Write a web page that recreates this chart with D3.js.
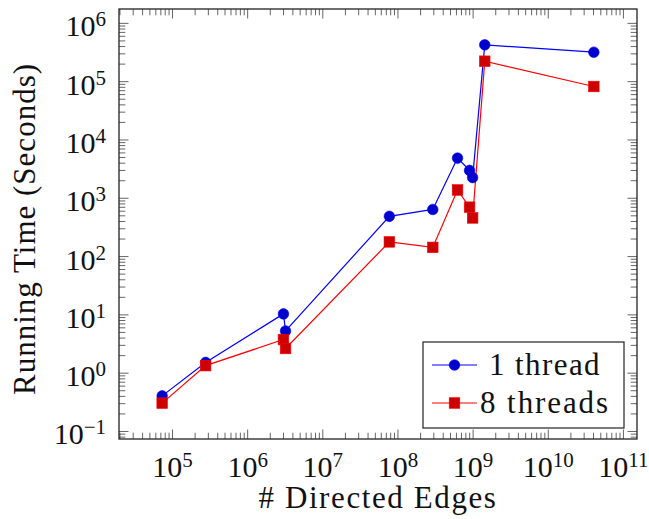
<!DOCTYPE html>
<html>
<head>
<meta charset="utf-8">
<script src="https://cdn.jsdelivr.net/npm/d3@7"></script>
<style>
  body { margin: 0; background: #fff; }
  svg, svg text { font-family: "Liberation Serif", "DejaVu Serif", serif; }
</style>
</head>
<body>
<svg id="chart" width="649" height="519"></svg>
<script>
// data
const edges = [7.4e4, 2.8e5, 3.04e6, 3.24e6, 7.8e7, 2.95e8, 6.3e8, 9.1e8, 1.0e9, 1.45e9, 4.1e10];
const oneThread = [0.40, 1.5, 10.2, 5.2, 480, 631, 4790, 2950, 2220, 4.2e5, 3.14e5];
const eightThreads = [0.30, 1.32, 3.7, 2.6, 175, 141, 1360, 690, 451, 2.2e5, 8.1e4];
const seriesNames = ["1 thread", "8 threads"];
const xTickPowers = [5, 6, 7, 8, 9, 10, 11];
const yTickPowers = [-1, 0, 1, 2, 3, 4, 5, 6];

const width = 649, height = 519;
const margin = { top: 9, right: 12, bottom: 80, left: 119 };
const majorLen = 9.5, minorLen = 6.3;
const serif = "Liberation Serif, DejaVu Serif, serif";

const svg = d3.select("#chart");

// pgfplots style: widen the log range by 10% on each side
function enlarge(ext) {
  const a = Math.log10(ext[0]), b = Math.log10(ext[1]), d = (b - a) * 0.1;
  return [Math.pow(10, a - d), Math.pow(10, b + d)];
}

const x = d3.scaleLog()
  .domain(enlarge(d3.extent(edges)))
  .range([margin.left, width - margin.right]);

const y = d3.scaleLog()
  .domain(enlarge(d3.extent(oneThread.concat(eightThreads))))
  .range([height - margin.bottom, margin.top]);

// minor ticks at 2..9 times each power of ten that fall inside the domain
function minorTicks(scale) {
  const [lo, hi] = scale.domain();
  const out = [];
  for (let p = Math.floor(Math.log10(lo)); p <= Math.ceil(Math.log10(hi)); p++) {
    for (let k = 2; k <= 9; k++) {
      const v = k * Math.pow(10, p);
      if (v > lo && v < hi) out.push(v);
    }
  }
  return out;
}

const xMajor = xTickPowers.map(p => Math.pow(10, p));
const yMajor = yTickPowers.map(p => Math.pow(10, p));

const bottom = height - margin.bottom, right = width - margin.right;

function styleTicks(g) {
  g.attr("font-family", serif).attr("font-size", 30);
  g.select(".domain").remove();
  g.selectAll(".tick line").attr("stroke", "#555").attr("stroke-width", 0.9);
}

// minor ticks on all four sides, pointing inward
svg.append("g").attr("transform", `translate(0,${bottom})`)
  .call(d3.axisBottom(x).tickValues(minorTicks(x)).tickSize(-minorLen).tickFormat(""))
  .call(styleTicks);
svg.append("g").attr("transform", `translate(0,${margin.top})`)
  .call(d3.axisTop(x).tickValues(minorTicks(x)).tickSize(-minorLen).tickFormat(""))
  .call(styleTicks);
svg.append("g").attr("transform", `translate(${margin.left},0)`)
  .call(d3.axisLeft(y).tickValues(minorTicks(y)).tickSize(-minorLen).tickFormat(""))
  .call(styleTicks);
svg.append("g").attr("transform", `translate(${right},0)`)
  .call(d3.axisRight(y).tickValues(minorTicks(y)).tickSize(-minorLen).tickFormat(""))
  .call(styleTicks);

// major ticks
svg.append("g").attr("transform", `translate(0,${margin.top})`)
  .call(d3.axisTop(x).tickValues(xMajor).tickSize(-majorLen).tickFormat(""))
  .call(styleTicks);
svg.append("g").attr("transform", `translate(${right},0)`)
  .call(d3.axisRight(y).tickValues(yMajor).tickSize(-majorLen).tickFormat(""))
  .call(styleTicks);

// power of ten labels: "10" with a raised exponent
function powerLabel(text, d) {
  const p = Math.round(Math.log10(d));
  text.text("10");
  text.append("tspan")
    .attr("font-size", 21)
    .attr("dy", -10)
    .text(p < 0 ? "\u2212" + (-p) : p);
}

svg.append("g").attr("class", "x-axis").attr("transform", `translate(0,${bottom})`)
  .call(d3.axisBottom(x).tickValues(xMajor).tickSize(-majorLen).tickFormat(""))
  .call(styleTicks)
  .call(g => g.selectAll(".tick text")
    .attr("y", 38).attr("dy", 0)
    .attr("font-family", serif).attr("font-size", 30).attr("fill", "#111")
    .each(function (d) { powerLabel(d3.select(this), d); }));

svg.append("g").attr("class", "y-axis").attr("transform", `translate(${margin.left},0)`)
  .call(d3.axisLeft(y).tickValues(yMajor).tickSize(-majorLen).tickFormat(""))
  .call(styleTicks)
  .call(g => g.selectAll(".tick text")
    .attr("x", -13).attr("dy", 13)
    .attr("font-family", serif).attr("font-size", 30).attr("fill", "#111")
    .each(function (d) { powerLabel(d3.select(this), d); }));

// frame
svg.append("rect")
  .attr("x", margin.left).attr("y", margin.top)
  .attr("width", right - margin.left).attr("height", bottom - margin.top)
  .attr("fill", "none").attr("stroke", "#222").attr("stroke-width", 1.3);

// series
const series = [
  { name: seriesNames[0], values: oneThread, line: "#0000ff", fill: "#0000cc", mark: "circle" },
  { name: seriesNames[1], values: eightThreads, line: "#ff0000", fill: "#cc0000", mark: "square" }
];

const line = d3.line()
  .x(d => x(d[0]))
  .y(d => y(d[1]));

const markR = 5.3;

function drawMark(g, s) {
  if (s.mark === "circle") {
    g.append("circle").attr("r", markR)
      .attr("fill", s.fill).attr("stroke", s.line).attr("stroke-width", 0.6);
  } else {
    g.append("rect").attr("x", -markR).attr("y", -markR)
      .attr("width", 2 * markR).attr("height", 2 * markR)
      .attr("fill", s.fill).attr("stroke", s.line).attr("stroke-width", 0.6);
  }
}

series.slice().reverse().forEach(s => {
  const pts = edges.map((e, i) => [e, s.values[i]]);
  svg.append("path")
    .datum(pts)
    .attr("d", line)
    .attr("fill", "none")
    .attr("stroke", s.line)
    .attr("stroke-width", 1.2);
});

series.forEach(s => {
  const pts = edges.map((e, i) => [e, s.values[i]]);
  svg.append("g").selectAll("g")
    .data(pts)
    .enter()
    .append("g")
    .attr("transform", d => `translate(${x(d[0])},${y(d[1])})`)
    .each(function () { drawMark(d3.select(this), s); });
});

// axis titles
svg.append("text")
  .attr("x", (margin.left + right) / 2).attr("y", 508)
  .attr("text-anchor", "middle").attr("font-size", 31).attr("letter-spacing", 1.6)
  .attr("fill", "#111")
  .text("# Directed Edges");

svg.append("text")
  .attr("transform", `translate(35,${(margin.top + bottom) / 2 + 5}) rotate(-90)`)
  .attr("text-anchor", "middle").attr("font-size", 31).attr("letter-spacing", 1)
  .attr("fill", "#111")
  .text("Running Time (Seconds)");

// legend, south east corner
const legW = 201, legH = 86;
const legX = right - 13 - legW, legY = bottom - 11 - legH;
const legend = svg.append("g").attr("transform", `translate(${legX},${legY})`);
legend.append("rect")
  .attr("width", legW).attr("height", legH)
  .attr("fill", "#fff").attr("stroke", "#222").attr("stroke-width", 1.2);

series.forEach((s, i) => {
  const row = legend.append("g").attr("transform", `translate(0,${23 + i * 38})`);
  row.append("line").attr("x1", 9).attr("x2", 54)
    .attr("stroke", s.line).attr("stroke-width", 1.2);
  const m = row.append("g").attr("transform", "translate(31.5,0)");
  drawMark(m, s);
  row.append("text").attr("x", 122).attr("y", 10)
    .attr("text-anchor", "middle")
    .attr("font-size", 31).attr("letter-spacing", i === 0 ? 1.4 : 1.9).attr("fill", "#111")
    .text(s.name);
});
</script>
</body>
</html>
